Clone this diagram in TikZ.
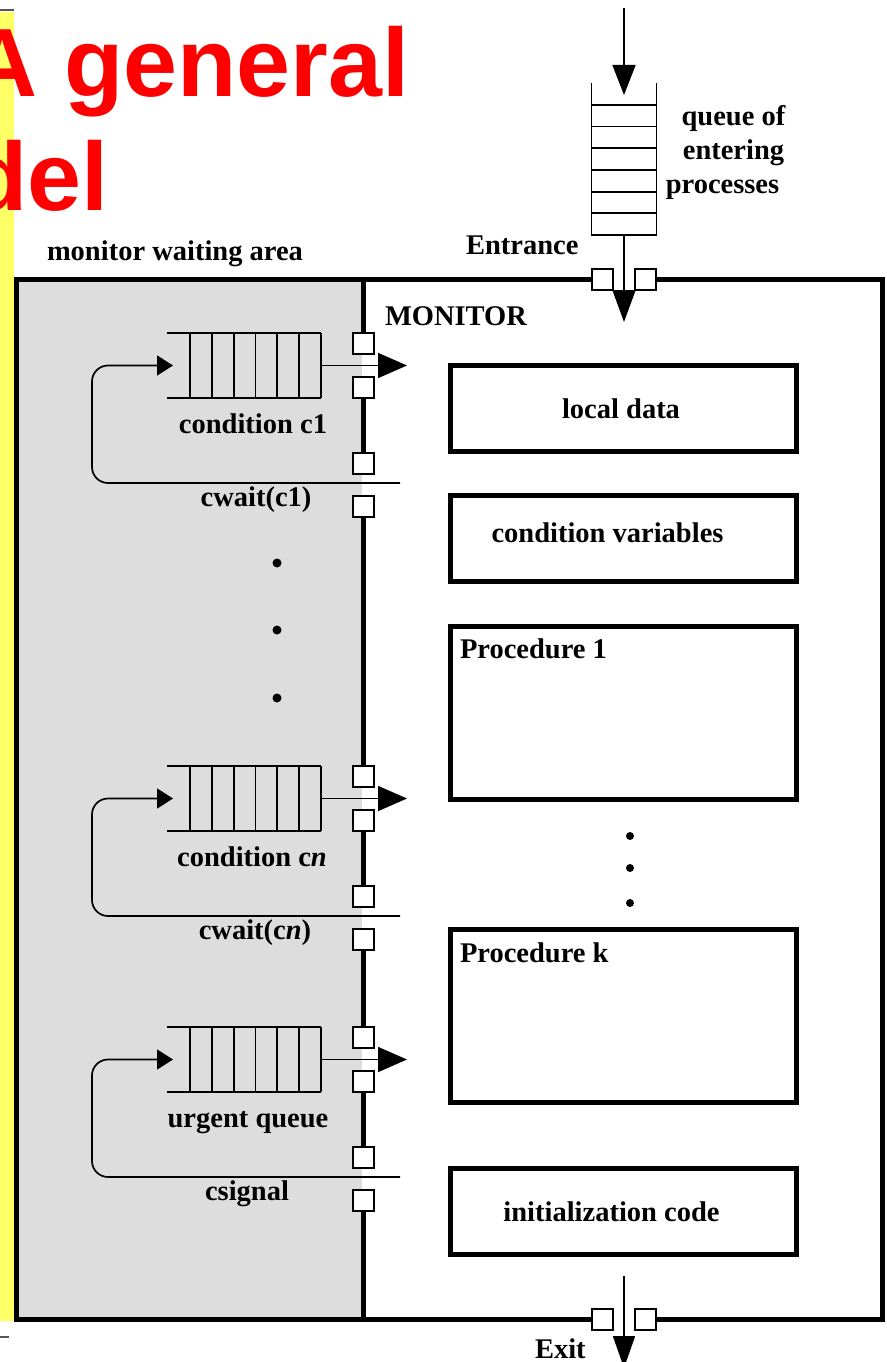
\documentclass[tikz,border=0pt]{standalone}
\usepackage{fontspec}
\setmainfont{Liberation Serif}
\newfontfamily\headfont{Liberation Sans}
\usetikzlibrary{arrows.meta}
\definecolor{padyellow}{RGB}{255,255,102}
\definecolor{waitgray}{RGB}{221,221,221}
\definecolor{rulegray}{RGB}{85,85,85}
\begin{document}
\begin{tikzpicture}[x=1pt,y=-1pt,
  thinline/.style={line width=1.7pt},
  heavy/.style={line width=5pt},
  gate/.style={draw, fill=white, line width=1.6pt, minimum width=21pt, minimum height=21pt, inner sep=0pt, outer sep=0pt},
  slot/.style={inner sep=0pt, outer sep=0pt, minimum width=154pt, minimum height=65pt},
  part/.style={draw, line width=5pt, inner sep=0pt, outer sep=0pt, minimum width=346pt},
  lab/.style={font=\bfseries\fontsize{28.5}{34}\selectfont, inner sep=0pt, outer sep=0pt},
  headline/.style={font=\headfont\bfseries\fontsize{97}{110}\selectfont, text=red, inner sep=0pt, anchor=base west},
  bigtip/.style={-{Triangle[length=30pt,width=23pt]}},
  sidetip/.style={-{Triangle[length=29pt,width=25pt]}},
  looptip/.style={-{Triangle[length=16pt,width=20pt]}},
  dot/.style={circle, fill=black, inner sep=0pt, minimum size=9pt},
]
\useasboundingbox (0,0) rectangle (886,1362);

% side strip and its rules
\fill[padyellow] (0,12) rectangle (14,1321);
\draw[rulegray, line width=2pt] (0,10.5) -- (14,10.5);
\draw[rulegray, line width=2pt] (0,1337) -- (9,1337);

% waiting area background
\fill[waitgray] (16.5,279.5) rectangle (362,1319.5);

% heading
\node[headline] (head1) at (-33,97) {A general};
\node[headline] (head2) at (-31.5,210) {del};

% queue of entering processes
\node[inner sep=0pt, outer sep=0pt, minimum width=65pt, minimum height=152pt] (eq) at (624,159) {};
\draw[thinline] (eq.north west) -- (eq.south west) -- (eq.south east) -- (eq.north east);
\foreach \k in {1,...,6}
  \draw[thinline] ([yshift={21.67pt*\k}]eq.south west) -- ([yshift={21.67pt*\k}]eq.south east);
\coordinate (src) at (624,8);
\draw[thinline, bigtip] (src) -- ([yshift=-12pt]eq.north);

% entrance and exit gates
\node[gate] (en1) at (602.5,279.5) {};
\node[gate] (en2) at (645.5,279.5) {};
\node[gate] (ex1) at (602.5,1319.5) {};
\node[gate] (ex2) at (645.5,1319.5) {};
\coordinate (enin) at (624,322);
\draw[thinline, -{Triangle[length=32pt,width=23pt]}] (eq.south) -- (enin);
\coordinate (exin) at (624,1276);
\coordinate (exout) at (624,1368);
\draw[thinline, -{Triangle[length=32pt,width=22pt]}] (exin) -- (exout);

% monitor frame
\draw[heavy, line join=miter] (en2.east) -- (882,279.5) -- (882,1319.5) -- (ex2.east);
\draw[heavy, line join=miter] (ex1.west) -- (16.5,1319.5) -- (16.5,279.5) -- (en1.west);

% condition queues and the urgent queue
\foreach \T/\id/\qtext/\wtext/\qx/\wx in {
    333/a/{condition c1}/{cwait(c1)}/253/256,
    766/b/{condition c\textit{n}}/{cwait(c\textit{n})}/252/255,
    1027/u/{urgent queue}/{csignal}/248/247}{
  \node[slot] (q\id) at (244,{\T+32.5}) {};
  \draw[thinline] (q\id.north west) -- (q\id.north east)
                  (q\id.south west) -- (q\id.south east);
  \foreach \k in {0,...,6}
    \draw[thinline] ([xshift={23pt+21.83pt*\k}]q\id.north west) -- ([xshift={23pt+21.83pt*\k}]q\id.south west);
  \node[gate] (g\id1) at (363.5,{\T+10.5}) {};
  \node[gate] (g\id2) at (363.5,{\T+54.5}) {};
  \node[gate] (g\id3) at (363.5,{\T+130.5}) {};
  \node[gate] (g\id4) at (363.5,{\T+173.5}) {};
  \coordinate (o\id) at (407,{\T+32.5});
  \draw[thinline, sidetip] (q\id.east) -- (o\id);
  \coordinate (w\id) at (400,{\T+150});
  \draw[thinline, rounded corners=16pt, looptip] (w\id) -- (92,{\T+150}) -- (92,{\T+32.5}) -- ([xshift=6pt]q\id.west);
  \node[lab, anchor=base] (ql\id) at (\qx,{\T+100}) {\qtext};
  \node[lab, anchor=base] (wl\id) at (\wx,{\T+173}) {\wtext};
}

% wall between waiting area and monitor
\draw[heavy] (363.5,279.5) -- (ga1.north);
\draw[heavy] (ga2.south) -- (ga3.north);
\draw[heavy] (ga4.south) -- (gb1.north);
\draw[heavy] (gb2.south) -- (gb3.north);
\draw[heavy] (gb4.south) -- (gu1.north);
\draw[heavy] (gu2.south) -- (gu3.north);
\draw[heavy] (gu4.south) -- (363.5,1319.5);

% ellipsis between queues
\node[dot] (ld1) at (277,563) {};
\node[dot] (ld2) at (277,630) {};
\node[dot] (ld3) at (277,698) {};

% monitor contents
\node[part, minimum height=86pt] (ld) at (623.5,408.5) {};
\node[lab, anchor=base] (ldt) at (621,418) {local data};
\node[part, minimum height=86pt] (cv) at (623.5,538.5) {};
\node[lab, anchor=base] (cvt) at (607.5,542) {condition variables};
\node[part, minimum height=173pt] (p1) at (623.5,713) {};
\node[lab, anchor=base west] (p1t) at (460,658) {Procedure 1};
\node[part, minimum height=173pt] (pk) at (623.5,1016) {};
\node[lab, anchor=base west] (pkt) at (460,962) {Procedure k};
\node[part, minimum height=86pt] (ic) at (623.5,1211.5) {};
\node[lab, anchor=base] (ict) at (611.5,1221) {initialization code};
\node[dot, minimum size=8pt] (rd1) at (630,836) {};
\node[dot, minimum size=8pt] (rd2) at (630,868) {};
\node[dot, minimum size=8pt] (rd3) at (630,903) {};

% labels
\node[lab, anchor=base west] (area) at (47,260) {monitor waiting area};
\node[lab, anchor=base] (qe1) at (733.5,125) {queue of};
\node[lab, anchor=base] (qe2) at (733.5,160) {entering};
\node[lab, anchor=base] (qe3) at (722.5,193) {processes};
\node[lab, anchor=base west] (entr) at (466,254) {Entrance};
\node[lab, anchor=base west] (mon) at (385,325) {MONITOR};
\node[lab, anchor=base west] (exit) at (535,1358) {Exit};
\end{tikzpicture}
\end{document}
